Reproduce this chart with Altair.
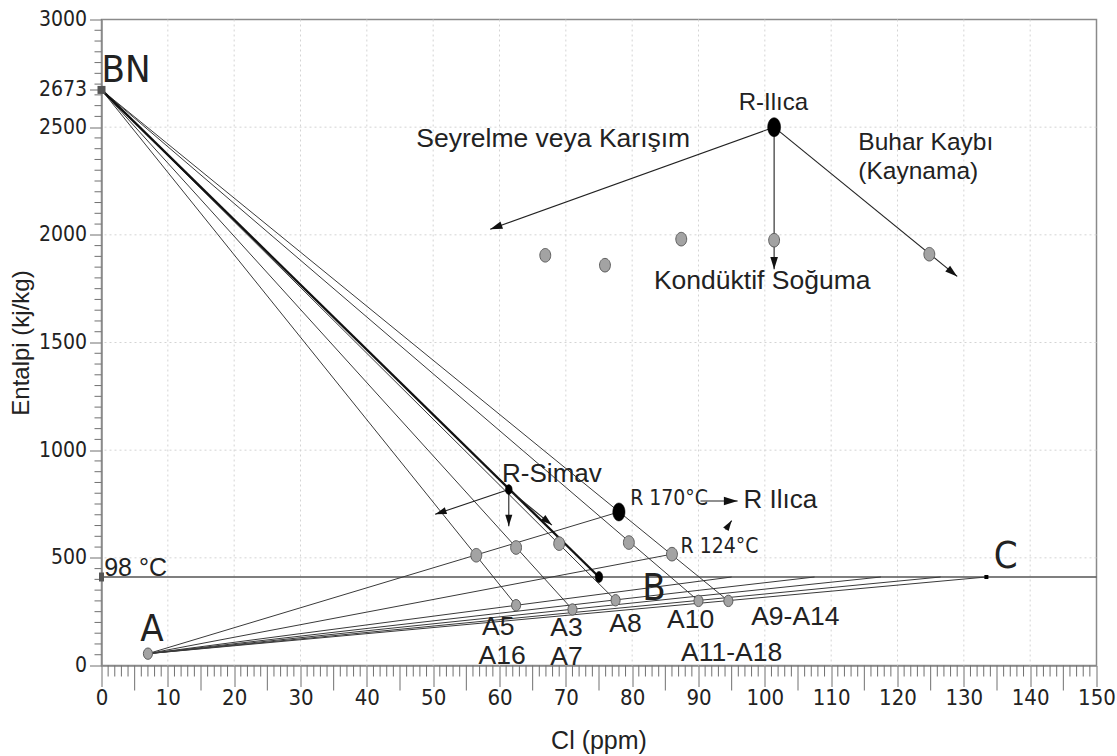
import math
import altair as alt
import pandas as pd

# plot area in pixels and axis ranges
W, HGT = 995, 646
CL_MAX, H_MAX = 150, 3000

NARROW = "Liberation Sans Narrow, Arial Narrow, DejaVu Sans Condensed, sans-serif"
REGULAR = "Liberation Sans, Arial, sans-serif"
INK = "#222222"

# ---- end members (Cl ppm, enthalpy kJ/kg) ----
bn = (0, 2673)          # steam (BN)
a_end = (7, 55)         # cold shallow water (A)
b_end = (75, 411)       # boiling-line end of the BN line (B)
c_end = (133.4, 411)    # boiling-line end member (C)
h_98c = 411             # enthalpy of water at 98 °C

# ---- samples ----
sample_cl = [62.5, 71, 77.5, 90, 94.5]
sample_h = [280, 260, 303, 300, 300]

# Cl where the A mixing lines meet the 98 °C line
boil_cl = [95, 107.5, 117.5, 126.5, 133.4]

# reservoir estimates on the steam mixing lines
res_cl = [56.5, 62.5, 69, 79.5, 86]
res_h = [512, 548, 566, 571, 517]

r_simav = (61.4, 817)
r_170 = (78, 713)
r_124 = (86, 517)

simav_arrow_cl = [50.3, 61.4, 67.9]
simav_arrow_h = [702, 647, 652]

# R-Ilıca process sketch
ilica = (101.4, 2500)
ilica_arrow_cl = [58.6, 101.4, 129.0]
ilica_arrow_h = [2026, 1840, 1807]
ilica_gray_cl = [66.9, 75.9, 87.4, 101.4, 124.8]
ilica_gray_h = [1905, 1859, 1980, 1975, 1910]

r170_arrow = [(90.3, 764), (95.9, 764)]
r124_arrow = [(94.1, 631), (95.0, 673)]

# grid and tick positions
x_ticks = list(range(0, 151, 10))
y_ticks = [0, 500, 1000, 1500, 2000, 2500, 2673, 3000]
grid_x = list(range(10, 150, 10))
grid_y = [500, 1000, 1500, 2000, 2500]
minor_x = [v for v in range(0, 151) if v % 5 != 0]
five_x = [v for v in range(5, 150, 10)]
minor_y = [v for v in range(0, 3001, 50) if v % 500 != 0]

# ---- tables ----
thin = []
for cl, h in zip(sample_cl, sample_h):
    thin.append((bn[0], bn[1], cl, h))
for cl in boil_cl:
    thin.append((a_end[0], a_end[1], cl, h_98c))
thin.append((a_end[0], a_end[1], r_170[0], r_170[1]))
thin.append((a_end[0], a_end[1], r_124[0], r_124[1]))
thin_df = pd.DataFrame(thin, columns=["x", "y", "x2", "y2"])

thick_df = pd.DataFrame([(bn[0], bn[1], b_end[0], b_end[1])], columns=["x", "y", "x2", "y2"])


def heading(x1, y1, x2, y2):
    dx = (x2 - x1) * W / CL_MAX
    dy = (y2 - y1) * HGT / H_MAX
    return math.degrees(math.atan2(dx, dy)) % 360


arrows = []
for cl, h in zip(ilica_arrow_cl, ilica_arrow_h):
    arrows.append((ilica[0], ilica[1], cl, h, 150))
for cl, h in zip(simav_arrow_cl, simav_arrow_h):
    arrows.append((r_simav[0], r_simav[1], cl, h, 130))
arrows.append((r170_arrow[0][0], r170_arrow[0][1], r170_arrow[1][0], r170_arrow[1][1], 190))
arrows.append((r124_arrow[0][0], r124_arrow[0][1], r124_arrow[1][0], r124_arrow[1][1], 110))
arrow_df = pd.DataFrame(arrows, columns=["x", "y", "x2", "y2", "s"])
arrow_df["ang"] = [heading(r.x, r.y, r.x2, r.y2) for r in arrow_df.itertuples()]

gray_big = pd.DataFrame({"x": ilica_gray_cl + res_cl, "y": ilica_gray_h + res_h})
gray_small = pd.DataFrame({"x": sample_cl + [a_end[0]], "y": sample_h + [a_end[1]]})
black_pts = pd.DataFrame({
    "x": [ilica[0], r_170[0], r_simav[0], b_end[0]],
    "y": [ilica[1], r_170[1], r_simav[1], b_end[1]],
    "s": [361, 324, 100, 121],
})

xs = alt.Scale(domain=[0, CL_MAX], nice=False, zero=False)
ys = alt.Scale(domain=[0, H_MAX], nice=False, zero=False)

x_axis = alt.Axis(
    values=x_ticks, format="d", tickSize=21, tickColor="#707070",
    domainColor="#8a8a8a", domainWidth=1.5, labelFont=NARROW, labelFontSize=22,
    labelColor=INK, labelPadding=1, labelFlush=False, labelOverlap=False, labelBound=False,
    grid=False, title="Cl (ppm)", titleFont=REGULAR, titleFontSize=25,
    titleFontWeight="normal", titleColor=INK, titleX=497, titleY=75, titleBaseline="middle",
)
y_axis = alt.Axis(
    values=y_ticks, format="d", tickSize=12,
    tickColor="#707070", domainColor="#8a8a8a", domainWidth=1.5, labelFont=NARROW,
    labelFontSize=21, labelColor=INK, labelPadding=3, labelFlush=False, labelOverlap=False,
    labelBound=False, grid=False, title="Entalpi (kj/kg)", titleFont=REGULAR, titleFontSize=24,
    titleFontWeight="normal", titleColor=INK, titleX=-80, titleY=323, titleAngle=270,
    titleAlign="center", titleBaseline="middle",
)


def X(f="x"):
    return alt.X(f"{f}:Q", scale=xs, axis=x_axis)


def Y(f="y"):
    return alt.Y(f"{f}:Q", scale=ys, axis=y_axis)


grid_style = dict(color="#d4d4d4", strokeWidth=1, strokeDash=[2, 3])
vgrid = alt.Chart(pd.DataFrame({"x": grid_x})).mark_rule(**grid_style).encode(x=X())
hgrid = alt.Chart(pd.DataFrame({"y": grid_y})).mark_rule(**grid_style).encode(y=Y())

tick_style = dict(color="#707070", strokeWidth=1)
xminor = alt.Chart(pd.DataFrame({"x": minor_x})).mark_rule(**tick_style).encode(
    x=X(), y=alt.value(HGT), y2=alt.value(HGT + 11))
xfive = alt.Chart(pd.DataFrame({"x": five_x})).mark_rule(**tick_style).encode(
    x=X(), y=alt.value(HGT), y2=alt.value(HGT + 25))
yminor = alt.Chart(pd.DataFrame({"y": minor_y})).mark_rule(**tick_style).encode(
    y=Y(), x=alt.value(-7), x2=alt.value(0))

line98 = alt.Chart(pd.DataFrame({"y": [h_98c]})).mark_rule(color="#555555", strokeWidth=1.3).encode(
    y=Y())

thin_lines = alt.Chart(thin_df).mark_rule(color="#3a3a3a", strokeWidth=1).encode(
    x=X(), y=Y(), x2="x2:Q", y2="y2:Q")
thick_line = alt.Chart(thick_df).mark_rule(color="#111111", strokeWidth=2.3).encode(
    x=X(), y=Y(), x2="x2:Q", y2="y2:Q")
arrow_lines = alt.Chart(arrow_df).mark_rule(color="#222222", strokeWidth=1.1).encode(
    x=X(), y=Y(), x2="x2:Q", y2="y2:Q")

HEAD = "M0,0L-0.62,2L0.62,2Z"
heads = alt.Chart(arrow_df).mark_point(shape=HEAD, filled=True, color="#111111", opacity=1).encode(
    x=X("x2"), y=Y("y2"), angle=alt.Angle("ang:Q", scale=None),
    size=alt.Size("s:Q", scale=None))


def ellipse(r):
    return f"M0,-1A{r},1 0 1,1 0,1A{r},1 0 1,1 0,-1Z"


gbig = alt.Chart(gray_big).mark_point(
    shape=ellipse(0.8), filled=True, fill="#a3a3a3", stroke="#5e5e5e", strokeWidth=1,
    size=185, opacity=1).encode(x=X(), y=Y())
gsmall = alt.Chart(gray_small).mark_point(
    shape=ellipse(0.8), filled=True, fill="#a3a3a3", stroke="#5e5e5e", strokeWidth=1,
    size=130, opacity=1).encode(x=X(), y=Y())
bpts = alt.Chart(black_pts).mark_point(
    shape=ellipse(0.68), filled=True, fill="#000000", stroke="#000000", strokeWidth=0.5,
    opacity=1).encode(x=X(), y=Y(), size=alt.Size("s:Q", scale=None))

sq_df = pd.DataFrame({"x": [bn[0]], "y": [bn[1]]})
bn_sq = alt.Chart(sq_df).mark_square(size=64, color="#555555", opacity=1).encode(x=X(), y=Y())
left98 = alt.Chart(pd.DataFrame({"x": [0], "y": [h_98c]})).mark_point(
    shape="M-0.55,-1H0.55V1H-0.55Z", filled=True, color="#555555", size=81, opacity=1
).encode(x=X(), y=Y())
c_sq = alt.Chart(pd.DataFrame({"x": [c_end[0]], "y": [c_end[1]]})).mark_square(
    size=16, color="#000000", opacity=1).encode(x=X(), y=Y())

# ---- labels ----
reg_center = pd.DataFrame([
    ("R-Simav", 67.9, 888, 26),
    ("R-Ilıca", 101.3, 2610, 24),
    ("Seyrelme veya Karışım", 68.1, 2444, 26.5),
    ("Kondüktif Soğuma", 99.6, 1785, 26.5),
    ("A5", 59.8, 177, 26.5),
    ("A16", 60.4, 42, 26.5),
    ("A3", 70.1, 173, 26.5),
    ("A7", 70.1, 38, 26.5),
    ("A8", 79.0, 192, 26.5),
    ("A10", 88.8, 211, 26.5),
    ("A11-A18", 95.0, 56, 26.5),
    ("A9-A14", 104.6, 225, 26.5),
], columns=["t", "x", "y", "fs"])
reg_left = pd.DataFrame([
    ("98 °C", 0.4, 451, 25),
    ("R Ilıca", 96.8, 767, 26),
    ("Buhar Kaybı", 114.1, 2425, 24.5),
    ("(Kaynama)", 114.1, 2290, 24.5),
], columns=["t", "x", "y", "fs"])
nar_center = pd.DataFrame([
    ("BN", 3.7, 2760, 38),
    ("A", 7.6, 164, 38),
    ("B", 83.3, 354, 38),
    ("C", 136.3, 503, 38),
], columns=["t", "x", "y", "fs"])
nar_left = pd.DataFrame([
    ("R 170°C", 79.7, 772, 21),
    ("R 124°C", 87.3, 549, 21),
], columns=["t", "x", "y", "fs"])


def labels(df, font, align):
    return alt.Chart(df).mark_text(font=font, align=align, baseline="middle", color=INK).encode(
        x=X(), y=Y(), text="t:N", size=alt.Size("fs:Q", scale=None))


chart = alt.layer(
    vgrid, hgrid, xminor, xfive, yminor, line98,
    thin_lines, thick_line, arrow_lines, heads,
    gbig, gsmall, bpts, bn_sq, left98, c_sq,
    labels(reg_center, REGULAR, "center"),
    labels(reg_left, REGULAR, "left"),
    labels(nar_center, NARROW, "center"),
    labels(nar_left, NARROW, "left"),
).properties(
    width=W, height=HGT,
    autosize=alt.AutoSizeParams(type="none"),
    padding={"left": 101.5, "top": 19.5, "right": 20.5, "bottom": 90},
    background="white",
).configure_view(stroke="#8a8a8a", strokeWidth=1.5)

chart.save("out.html", embed_options={"renderer": "svg", "actions": False})
